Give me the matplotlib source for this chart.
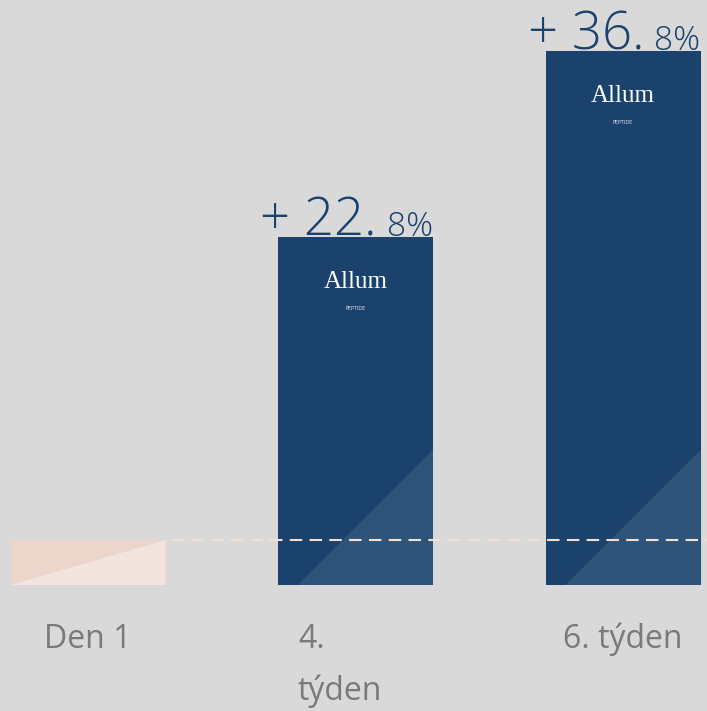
import matplotlib
matplotlib.use("Agg")
import matplotlib.pyplot as plt
from matplotlib.patches import Polygon
import matplotlib.transforms as mtransforms

# ---- data ----
categories = ["Den 1", "4.\ntýden", "6. týden"]
values = [100.0, 122.8, 136.8]          # index relative to day 1
baseline_value = 100.0

# ---- style ----
BG = "#D9D9D9"
NAVY = "#1A426C"
NAVY_LIGHT = "#2E5479"
PEACH = "#ECD6CB"
PEACH_LIGHT = "#F3E4DD"
GREY = "#7A7A7A"
FONT = "Open Sans"

W, H = 707, 711
fig = plt.figure(figsize=(W / 100, H / 100), dpi=100)
fig.patch.set_facecolor(BG)
ax = fig.add_axes([0, 0, 1, 1])
ax.set_facecolor(BG)
ax.axis("off")

px_x = 267.5            # pixels per category step
px_y = 13.3             # pixels per value unit
x0_px = 88              # first bar centre
ax.set_xlim(-x0_px / px_x, (W - x0_px) / px_x)
top_val = baseline_value + 540 / px_y
ax.set_ylim(top_val - H / px_y, top_val)

bar_bottom = baseline_value - 45 / px_y
bar_w = 155 / px_x
xs = list(range(len(categories)))

heights = [v - bar_bottom for v in values]
colors = [PEACH, NAVY, NAVY]
bars = ax.bar(xs, heights, bottom=bar_bottom, width=bar_w, color=colors,
              zorder=2, linewidth=0)

# decorative lighter triangles inside bars
for i, (x, v) in enumerate(zip(xs, values)):
    left, right = x - bar_w / 2, x + bar_w / 2
    if i == 0:
        pts = [(left, bar_bottom), (right, v), (right, bar_bottom)]
        fc = PEACH_LIGHT
    else:
        pts = [(left + 20 / px_x, bar_bottom),
               (right, bar_bottom + 135 / px_y),
               (right, bar_bottom)]
        fc = NAVY_LIGHT
    ax.add_patch(Polygon(pts, closed=True, facecolor=fc, edgecolor="none", zorder=3))

# dashed reference line at day-1 level
ln, = ax.plot([xs[0] + bar_w / 2 + 5 / px_x, ax.get_xlim()[1]],
              [baseline_value, baseline_value], color="#F3DED4", lw=1.5, zorder=4)
ln.set_dashes((6, 3.5))

# logo text inside navy bars
for x, v in zip(xs[1:], values[1:]):
    ax.text(x, v - 45 / px_y, "Allum", ha="center", va="center", color="white",
            fontsize=18, family="Liberation Serif", zorder=5)
    ax.text(x, v - 72 / px_y, "PEPTIDE", ha="center", va="center", color="#DDE3EA",
            fontsize=3.5, family="DejaVu Sans", zorder=5)

# percentage labels
fig.canvas.draw()
renderer = fig.canvas.get_renderer()
blend = mtransforms.blended_transform_factory(mtransforms.IdentityTransform(), ax.transData)
for x, v in zip(xs[1:], values[1:]):
    diff = v - baseline_value
    whole, frac = f"{diff:.1f}".split(".")
    right = x + bar_w / 2
    t_small = ax.text(right, v + 1 / px_y, f"{frac}%", ha="right", va="baseline",
                      color=NAVY, fontsize=24, family=FONT, fontweight="light",
                      zorder=6)
    bb = t_small.get_window_extent(renderer)
    ax.text(bb.x0 - 10, v + 1 / px_y, f"+ {whole}.", ha="right", va="baseline",
            color=NAVY, fontsize=38, family=FONT, fontweight="light", zorder=1,
            transform=blend)

# category labels
label_y = bar_bottom - 63 / px_y
for i, (x, lab) in enumerate(zip(xs, categories)):
    if "\n" in lab:
        lines = lab.split("\n")
        for j, line in enumerate(lines):
            ax.text(x - bar_w / 2 + 20 / px_x, label_y - j * 52 / px_y, line,
                    ha="left", va="baseline", color=GREY, fontsize=23, family=FONT)
    else:
        ax.text(x, label_y, lab, ha="center", va="baseline", color=GREY,
                fontsize=23, family=FONT)

fig.savefig("out.png", dpi=100, facecolor=BG)
